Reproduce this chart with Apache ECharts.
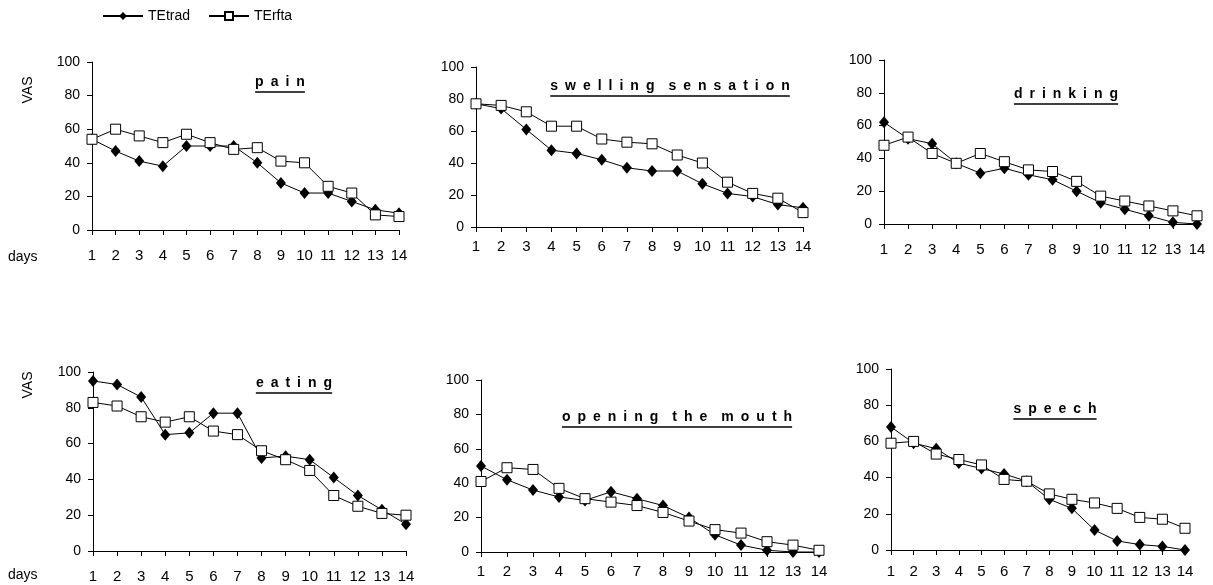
<!DOCTYPE html>
<html>
<head>
<meta charset="utf-8">
<script src="https://cdn.jsdelivr.net/npm/echarts@6/dist/echarts.min.js"></script>
<style>
html,body{margin:0;padding:0;background:#fff;}
#c{width:1213px;height:585px;}
</style>
</head>
<body>
<div id="c"></div>
<script>
// ---- data ----
const days = ['1','2','3','4','5','6','7','8','9','10','11','12','13','14'];
const yTicks = [0, 20, 40, 60, 80, 100];
const seriesNames = ['TEtrad', 'TErfta'];
const panelTitles = ['pain', 'swelling sensation', 'drinking', 'eating', 'opening the mouth', 'speech'];

const painTEtrad = [54, 47, 41, 38, 50, 50, 50, 40, 28, 22, 22, 17, 12, 10];
const painTErfta = [54, 60, 56, 52, 57, 52, 48, 49, 41, 40, 26, 22, 9, 8];

const swellingTEtrad = [77, 74, 61, 48, 46, 42, 37, 35, 35, 27, 21, 19, 14, 12];
const swellingTErfta = [77, 76, 72, 63, 63, 55, 53, 52, 45, 40, 28, 21, 18, 9];

const drinkingTEtrad = [62, 52, 49, 37, 31, 34, 30, 27, 20, 13, 9, 5, 1, 0];
const drinkingTErfta = [48, 53, 43, 37, 43, 38, 33, 32, 26, 17, 14, 11, 8, 5];

const eatingTEtrad = [95, 93, 86, 65, 66, 77, 77, 52, 53, 51, 41, 31, 23, 15];
const eatingTErfta = [83, 81, 75, 72, 75, 67, 65, 56, 51, 45, 31, 25, 21, 20];

const openingTEtrad = [50, 42, 36, 32, 30, 35, 31, 27, 20, 10, 4, 1, 0, 0];
const openingTErfta = [41, 49, 48, 37, 31, 29, 27, 23, 18, 13, 11, 6, 4, 1];

const speechTEtrad = [68, 59, 56, 48, 45, 42, 38, 28, 23, 11, 5, 3, 2, 0];
const speechTErfta = [59, 60, 53, 50, 47, 39, 38, 31, 28, 26, 23, 18, 17, 12];

const trad = [painTEtrad, swellingTEtrad, drinkingTEtrad, eatingTEtrad, openingTEtrad, speechTEtrad];
const rfta = [painTErfta, swellingTErfta, drinkingTErfta, eatingTErfta, openingTErfta, speechTErfta];

// ---- layout ----
const FONT = '"Liberation Sans", Arial, sans-serif';
const grids = [
  {left: 92,  top: 62,  width: 307, height: 168},
  {left: 476, top: 67,  width: 327, height: 160},
  {left: 884, top: 60,  width: 313, height: 164},
  {left: 93,  top: 372, width: 313, height: 179},
  {left: 481, top: 380, width: 338, height: 172},
  {left: 891, top: 369, width: 294, height: 181}
];
const xMargins = [18, 12, 18, 18, 12, 14];
const titlePos = [
  {x: 280, y: 82, u: 92},
  {x: 670, y: 86, u: 96},
  {x: 1066, y: 94, u: 104},
  {x: 294, y: 383, u: 393},
  {x: 677, y: 417, u: 427},
  {x: 1055, y: 409, u: 419}
];

function spaced(s) {
  return s.split(' ').map(w => w.split('').join('\u2002')).join('\u2002\u2002');
}
const measureCtx = document.createElement('canvas').getContext('2d');
function textWidth(t, font) { measureCtx.font = font; return measureCtx.measureText(t).width; }

const xAxes = [], yAxes = [], series = [], graphics = [];
grids.forEach((g, i) => {
  g.containLabel = false;
  g.outerBoundsMode = 'none';
  xAxes.push({
    type: 'category', gridIndex: i, data: days, boundaryGap: false,
    axisLine: {lineStyle: {color: '#000', width: 1}},
    axisTick: {show: true, length: 5, lineStyle: {color: '#000'}},
    axisLabel: {interval: 0, color: '#000', fontSize: 15, fontFamily: FONT, margin: xMargins[i], hideOverlap: false},
    splitLine: {show: false}
  });
  yAxes.push({
    type: 'value', gridIndex: i, min: yTicks[0], max: yTicks[yTicks.length - 1], interval: yTicks[1] - yTicks[0],
    axisLine: {show: true, lineStyle: {color: '#000', width: 1}},
    axisTick: {show: true, length: 5, lineStyle: {color: '#000'}},
    axisLabel: {color: '#000', fontSize: 14, fontFamily: FONT, margin: 12},
    splitLine: {show: false}
  });
  series.push({
    type: 'line', name: seriesNames[0], xAxisIndex: i, yAxisIndex: i, data: trad[i],
    symbol: 'diamond', symbolSize: [10, 12],
    lineStyle: {color: '#000', width: 1},
    itemStyle: {color: '#000'},
    z: 3, animation: false
  });
  series.push({
    type: 'line', name: seriesNames[1], xAxisIndex: i, yAxisIndex: i, data: rfta[i],
    symbol: 'rect', symbolSize: 10,
    lineStyle: {color: '#000', width: 1},
    itemStyle: {color: '#fff', borderColor: '#000', borderWidth: 1},
    z: 4, animation: false
  });
  const t = spaced(panelTitles[i]);
  const tf = 'bold 14px ' + FONT;
  const w = textWidth(t, tf);
  const p = titlePos[i];
  graphics.push({
    type: 'text', x: p.x, y: p.y,
    style: {text: t, font: tf, fill: '#000', textAlign: 'center', textVerticalAlign: 'middle'}
  });
  graphics.push({
    type: 'line', shape: {x1: p.x - w / 2, y1: p.u, x2: p.x + w / 2, y2: p.u},
    style: {stroke: '#000', lineWidth: 1.5}
  });
});

// axis side labels
[{y: 257}, {y: 575}].forEach(d => graphics.push({
  type: 'text', x: 8, y: d.y,
  style: {text: 'days', font: '14px ' + FONT, fill: '#000', textAlign: 'left', textVerticalAlign: 'middle'}
}));
[{y: 90}, {y: 385}].forEach(d => graphics.push({
  type: 'text', x: 28, y: d.y, rotation: Math.PI / 2,
  style: {text: 'VAS', font: '14px ' + FONT, fill: '#000', textAlign: 'center', textVerticalAlign: 'middle'}
}));

const chart = echarts.init(document.getElementById('c'), null, {renderer: 'canvas'});
chart.setOption({
  backgroundColor: '#fff',
  animation: false,
  legend: {
    left: 97, top: 4, itemWidth: 40, itemHeight: 10, itemGap: 18,
    data: seriesNames,
    textStyle: {color: '#000', fontSize: 14, fontFamily: FONT}
  },
  grid: grids,
  xAxis: xAxes,
  yAxis: yAxes,
  series: series,
  graphic: graphics
});
</script>
</body>
</html>
